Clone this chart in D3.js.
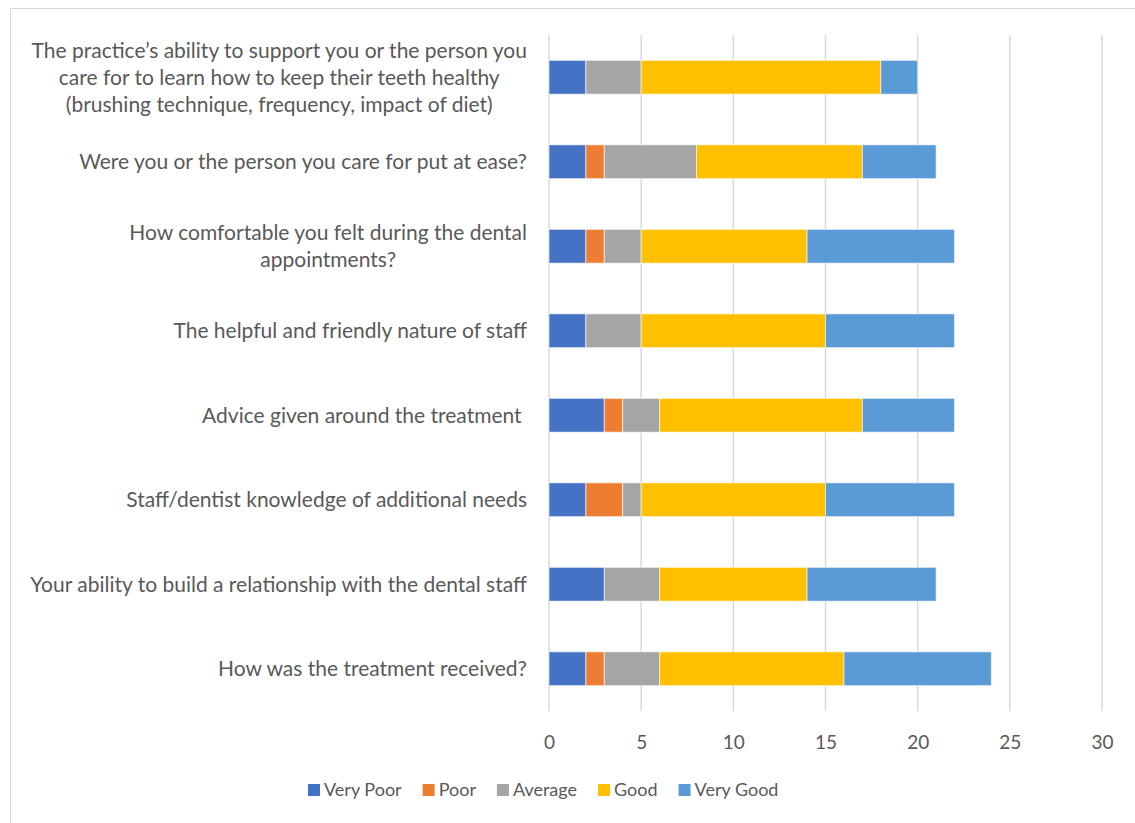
<!DOCTYPE html>
<html>
<head>
<meta charset="utf-8">
<script src="https://cdn.jsdelivr.net/npm/d3@7/dist/d3.min.js"></script>
<style>
  html, body { margin: 0; padding: 0; background: #fff; }
  svg { display: block; }
  text { font-family: Lato, "Open Sans", sans-serif; fill: #595959; white-space: pre; }
</style>
</head>
<body>
<svg id="chart" width="1135" height="823"></svg>
<script>
// Survey questions, top to bottom; "\n" marks a line break in the label
const questions = [
  "The practice\u2019s ability to support you or the person you\ncare for to learn how to keep their teeth healthy\n(brushing technique, frequency, impact of diet)",
  "Were you or the person you care for put at ease?",
  "How comfortable you felt during the dental\nappointments?",
  "The helpful and friendly nature of staff",
  "Advice given around the treatment ",
  "Staff/dentist knowledge of additional needs",
  "Your ability to build a relationship with the dental staff",
  "How was the treatment received?"
];

const ratings = ["Very Poor", "Poor", "Average", "Good", "Very Good"];
const ratingColors = ["#4472C4", "#ED7D31", "#A5A5A5", "#FFC000", "#5B9BD5"];

// Response counts per rating, in the same order as the questions
const veryPoor = [2, 2, 2, 2, 3, 2, 3, 2];
const poor     = [0, 1, 1, 0, 1, 2, 0, 1];
const average  = [3, 5, 2, 3, 2, 1, 3, 3];
const good     = [13, 9, 9, 10, 11, 10, 8, 10];
const veryGood = [2, 4, 8, 7, 5, 7, 7, 8];

const xTicks = [0, 5, 10, 15, 20, 25, 30];

const rows = questions.map((q, i) => ({
  question: q,
  "Very Poor": veryPoor[i],
  "Poor": poor[i],
  "Average": average[i],
  "Good": good[i],
  "Very Good": veryGood[i]
}));

const svg = d3.select("#chart");

// outer chart frame
svg.append("rect")
  .attr("x", 10.5).attr("y", 8.5)
  .attr("width", 1140).attr("height", 830)
  .attr("fill", "none").attr("stroke", "#d9d9d9").attr("stroke-width", 1);

const plot = { left: 549, right: 1102, top: 35, bottom: 711 };

const x = d3.scaleLinear().domain([0, 30]).range([plot.left, plot.right]);
const y = d3.scaleBand().domain(questions).range([plot.top, plot.bottom]).paddingInner(0.6).paddingOuter(0.3);

// vertical gridlines
svg.append("g").selectAll("line")
  .data(xTicks)
  .join("line")
  .attr("x1", d => x(d)).attr("x2", d => x(d))
  .attr("y1", plot.top).attr("y2", plot.bottom)
  .attr("stroke", "#d9d9d9").attr("stroke-width", 1.5);

// x axis labels
const xAxis = d3.axisBottom(x).tickValues(xTicks).tickSize(0).tickPadding(0);
const gx = svg.append("g").attr("transform", `translate(0,${plot.bottom + 38})`).call(xAxis);
gx.select(".domain").remove();
gx.selectAll("text")
  .attr("dy", 0)
  .style("font-size", "19px")
  .attr("fill", "#595959");

// stacked bars
const stack = d3.stack().keys(ratings);
const series = stack(rows);

svg.append("g").selectAll("g")
  .data(series)
  .join("g")
  .attr("fill", (d, i) => ratingColors[i])
  .selectAll("rect")
  .data(d => d.filter(s => s[1] - s[0] > 0))
  .join("rect")
  .attr("x", d => x(d[0]))
  .attr("y", d => y(d.data.question))
  .attr("width", d => x(d[1]) - x(d[0]))
  .attr("height", y.bandwidth())
  .attr("stroke", "#ffffff")
  .attr("stroke-opacity", 0.6)
  .attr("stroke-width", 1);

// category labels: multi-line blocks centred on themselves, right-aligned to the axis
const labelRight = 527;
const lineHeight = 27;
const labels = svg.append("g");
questions.forEach(q => {
  const lines = q.split("\n");
  const g = labels.append("g");
  const texts = lines.map((line, j) => g.append("text")
    .attr("y", y(q) + y.bandwidth() / 2 + (j - (lines.length - 1) / 2) * lineHeight)
    .attr("dy", "0.35em")
    .style("font-size", "21px")
    .text(line));
  const widths = texts.map(t => t.node().getComputedTextLength());
  const maxW = d3.max(widths);
  texts.forEach(t => t.attr("x", labelRight - maxW / 2).attr("text-anchor", "middle"));
});

// legend
const legendItems = svg.append("g").attr("transform", "translate(0,790)");
let lx = 308;
ratings.forEach((r, i) => {
  legendItems.append("rect")
    .attr("x", lx).attr("y", -6)
    .attr("width", 12).attr("height", 12)
    .attr("fill", ratingColors[i]);
  const t = legendItems.append("text")
    .attr("x", lx + 16).attr("y", 0).attr("dy", "0.35em")
    .style("font-size", "18px")
    .text(r);
  lx += 16 + t.node().getComputedTextLength() + 21;
});
</script>
</body>
</html>
